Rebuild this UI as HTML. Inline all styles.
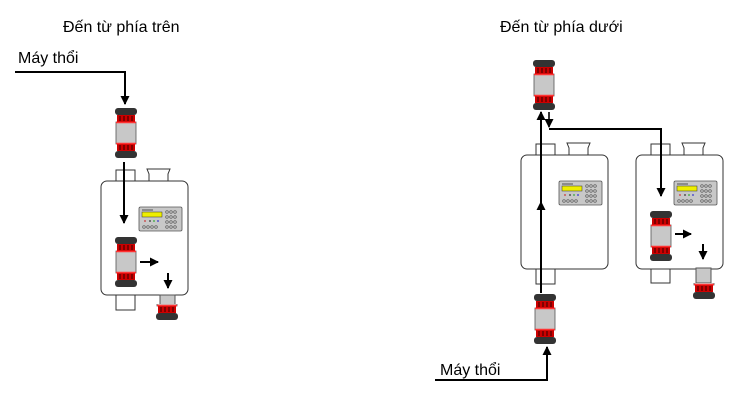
<!DOCTYPE html>
<html><head><meta charset="utf-8"><style>
html,body{margin:0;padding:0;background:#fff;width:747px;height:417px;overflow:hidden}
text{font-family:"Liberation Sans",Arial,sans-serif;fill:#000}
</style></head><body>
<svg width="747" height="417" viewBox="0 0 747 417" xmlns="http://www.w3.org/2000/svg">
<defs>
<marker id="ah" markerWidth="9" markerHeight="9" refX="8" refY="4.5" orient="auto" markerUnits="userSpaceOnUse">
<path d="M0,0 L9,4.5 L0,9 z" fill="#000"/></marker>
<clipPath id="cb"><rect x="-2" y="34" width="24" height="20"/></clipPath>
<g id="flt">
<rect x="0" y="14" width="20" height="22" fill="#c8c8c8" stroke="#555" stroke-width="0.8"/>
<rect x="1" y="7" width="18" height="8" fill="#c00"/>
<rect x="1" y="35" width="18" height="8" fill="#c00"/>
<g stroke="#300" stroke-width="1"><line x1="4" y1="8" x2="4" y2="13"/><line x1="8" y1="8" x2="8" y2="13"/><line x1="12" y1="8" x2="12" y2="13"/><line x1="16" y1="8" x2="16" y2="13"/>
<line x1="4" y1="37" x2="4" y2="42"/><line x1="8" y1="37" x2="8" y2="42"/><line x1="12" y1="37" x2="12" y2="42"/><line x1="16" y1="37" x2="16" y2="42"/></g>
<line x1="0" y1="14.5" x2="20" y2="14.5" stroke="#f33" stroke-width="1.5"/>
<line x1="0" y1="35.5" x2="20" y2="35.5" stroke="#f33" stroke-width="1.5"/>
<rect x="-1" y="0" width="22" height="7" rx="3" fill="#333"/>
<rect x="-1" y="43" width="22" height="7" rx="3" fill="#333"/>
</g>
<g id="panel">
<rect x="0" y="0" width="43" height="24" rx="1.5" fill="#c8c8c8" stroke="#555" stroke-width="0.8"/>
<rect x="3" y="5" width="20" height="5" fill="#ee0" stroke="#333" stroke-width="0.5"/>
<line x1="3" y1="3" x2="14" y2="3" stroke="#333" stroke-width="0.8"/>
<g fill="none" stroke="#555" stroke-width="0.7">
<circle cx="28" cy="5" r="1.3"/><circle cx="32" cy="5" r="1.3"/><circle cx="36" cy="5" r="1.3"/>
<circle cx="28" cy="10" r="1.3"/><circle cx="32" cy="10" r="1.3"/><circle cx="36" cy="10" r="1.3"/>
<circle cx="28" cy="15" r="1.3"/><circle cx="32" cy="15" r="1.3"/><circle cx="36" cy="15" r="1.3"/>
<circle cx="5" cy="20" r="1.3"/><circle cx="9" cy="20" r="1.3"/><circle cx="13" cy="20" r="1.3"/><circle cx="17" cy="20" r="1.3"/>
<circle cx="28" cy="20" r="1.3"/><circle cx="32" cy="20" r="1.3"/><circle cx="36" cy="20" r="1.3"/></g>
<circle cx="6" cy="14" r="0.9" fill="#c33"/><circle cx="11" cy="14" r="0.9" fill="#333"/><circle cx="15" cy="14" r="0.9" fill="#3a3"/><circle cx="19" cy="14" r="0.9" fill="#33c"/>
</g>
<g id="meter">
<rect x="15" y="-11" width="19" height="11" fill="#fff" stroke="#333" stroke-width="1"/>
<path d="M46,-12 L69,-12 L67,-7 L67,0 L48,0 L48,-7 z" fill="#fff" stroke="#333" stroke-width="1"/>
<rect x="0" y="0" width="87" height="114" rx="6" fill="#fff" stroke="#333" stroke-width="1"/>
<use href="#panel" x="38" y="26"/>
</g>
</defs>

<text x="63" y="32" font-size="16">Đến từ phía trên</text>
<text x="18" y="63" font-size="16">Máy thổi</text>
<line x1="15" y1="72" x2="126" y2="72" stroke="#000" stroke-width="2"/>
<line x1="125" y1="72" x2="125" y2="104" stroke="#000" stroke-width="2" marker-end="url(#ah)"/>
<use href="#flt" x="116" y="108"/>

<use href="#meter" x="101" y="181"/>
<rect x="116" y="295" width="19" height="15" fill="#fff" stroke="#333"/>
<rect x="160" y="295" width="15" height="10" fill="#c8c8c8" stroke="#555"/>
<g transform="translate(157,270)"><use href="#flt" x="0" y="0" clip-path="url(#cb)"/></g>
<line x1="124" y1="162" x2="124" y2="223" stroke="#000" stroke-width="2" marker-end="url(#ah)"/>
<use href="#flt" x="116" y="237"/>
<line x1="140" y1="262" x2="158" y2="262" stroke="#000" stroke-width="2" marker-end="url(#ah)"/>
<line x1="168" y1="273" x2="168" y2="288" stroke="#000" stroke-width="2" marker-end="url(#ah)"/>

<text x="500" y="32" font-size="16">Đến từ phía dưới</text>
<use href="#flt" x="534" y="60"/>
<use href="#meter" x="521" y="155"/>
<use href="#meter" x="636" y="155"/>
<rect x="536" y="269" width="19" height="15" fill="#fff" stroke="#333"/>
<rect x="651" y="269" width="19" height="14" fill="#fff" stroke="#333"/>
<rect x="696" y="268" width="15" height="15" fill="#c8c8c8" stroke="#555"/>
<g transform="translate(694,249)"><use href="#flt" x="0" y="0" clip-path="url(#cb)"/></g>

<line x1="541" y1="293" x2="541" y2="202" stroke="#000" stroke-width="2" marker-end="url(#ah)"/>
<line x1="541" y1="202" x2="541" y2="112" stroke="#000" stroke-width="2" marker-end="url(#ah)"/>
<line x1="549" y1="112" x2="549" y2="127" stroke="#000" stroke-width="1.6" marker-end="url(#ah)"/>
<polyline points="549,129 661,129 661,196" fill="none" stroke="#000" stroke-width="2" marker-end="url(#ah)"/>
<use href="#flt" x="651" y="211"/>
<line x1="675" y1="234" x2="691" y2="234" stroke="#000" stroke-width="2" marker-end="url(#ah)"/>
<line x1="703" y1="244" x2="703" y2="259" stroke="#000" stroke-width="2" marker-end="url(#ah)"/>

<use href="#flt" x="535" y="294"/>
<text x="440" y="375" font-size="16">Máy thổi</text>
<line x1="435" y1="380" x2="548" y2="380" stroke="#000" stroke-width="2"/>
<line x1="547" y1="380" x2="547" y2="347" stroke="#000" stroke-width="2" marker-end="url(#ah)"/>
</svg>
</body></html>
